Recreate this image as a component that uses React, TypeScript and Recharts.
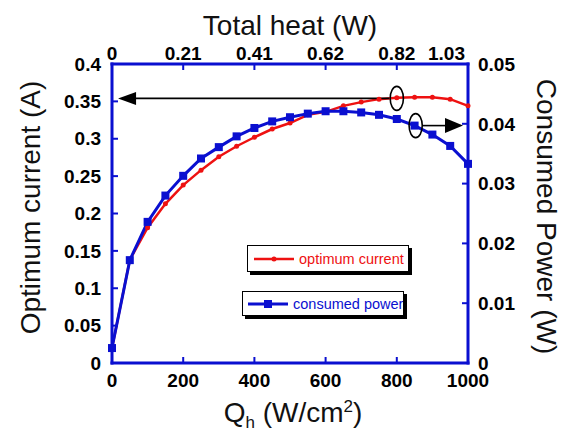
import {
  ComposedChart, Line, XAxis, YAxis, Legend, ReferenceLine, ReferenceDot,
} from 'recharts';

// heat flux Qh (W/cm2)
const qh = [0, 50, 100, 150, 200, 250, 300, 350, 400, 450, 500, 550, 600, 650, 700, 750, 800, 850, 900, 950, 1000];
// optimum current (A), left axis
const current = [0.02, 0.138, 0.181, 0.213, 0.238, 0.258, 0.276, 0.29, 0.302, 0.313, 0.321, 0.332, 0.336, 0.344, 0.349, 0.353, 0.355, 0.3556, 0.3556, 0.353, 0.344];
// consumed power (W), right axis
const power = [0.0025, 0.0172, 0.0236, 0.028, 0.0313, 0.0342, 0.0361, 0.0379, 0.0393, 0.0404, 0.0411, 0.0417, 0.0421, 0.0421, 0.0419, 0.0415, 0.0408, 0.0397, 0.0382, 0.0363, 0.0333];

const xTicks = [0, 200, 400, 600, 800, 1000];
const topTickLabels = ['0', '0.21', '0.41', '0.62', '0.82', '1.03'];
const leftTicks = [0, 0.05, 0.1, 0.15, 0.2, 0.25, 0.3, 0.35, 0.4];
const rightTicks = [0, 0.01, 0.02, 0.03, 0.04, 0.05];

const data = qh.map((q, i) => ({ q, current: current[i], power: power[i] }));

const BLUE = '#0a0fd0';
const RED = '#ee1111';
const FONT = '"Liberation Sans", Arial, sans-serif';

const tick = { fontSize: 19, fontWeight: 700, fill: '#000', fontFamily: FONT };
const axisLine = { stroke: BLUE, strokeWidth: 3, strokeLinecap: 'square' as const };
const tickLine = { stroke: BLUE, strokeWidth: 2 };
const titleStyle = { fontSize: 28, fill: '#111', fontFamily: FONT };

// top axis labels; the last one is pulled left so it clears the right axis labels
function TopTick({ x, y, index }: any) {
  const last = index === topTickLabels.length - 1;
  return (
    <text x={last ? x - 3 : x} y={y - 1} textAnchor={last ? 'end' : 'middle'} style={tick}>
      {topTickLabels[index]}
    </text>
  );
}

function LeftTitle({ viewBox }: any) {
  const x = viewBox.x + 30;
  const y = viewBox.y + viewBox.height / 2 - 6;
  return (
    <text x={x} y={y} transform={`rotate(-90 ${x} ${y})`} textAnchor="middle" dominantBaseline="central" style={titleStyle}>
      Optimum current (A)
    </text>
  );
}

function RightTitle({ viewBox }: any) {
  const x = viewBox.x + 78;
  const y = viewBox.y + viewBox.height / 2 + 3;
  return (
    <text x={x} y={y} transform={`rotate(90 ${x} ${y})`} textAnchor="middle" dominantBaseline="central" style={titleStyle}>
      Consumed Power (W)
    </text>
  );
}

function TopTitle({ viewBox }: any) {
  const x = viewBox.x + viewBox.width / 2;
  return (
    <text x={x} y={35} textAnchor="middle" style={titleStyle}>Total heat (W)</text>
  );
}

function BottomTitle({ viewBox }: any) {
  const x = viewBox.x + viewBox.width / 2 + 3;
  const y = viewBox.y + 59;
  return (
    <text x={x} y={y} textAnchor="middle" style={titleStyle}>
      Q<tspan fontSize={17} dy={6}>h</tspan>
      <tspan dy={-6}> (W/cm</tspan>
      <tspan fontSize={17} dy={-10}>2</tspan>
      <tspan dy={10}>)</tspan>
    </text>
  );
}

function Square(p: any) {
  return <rect key={`sq-${p.index}`} x={p.cx - 4} y={p.cy - 4} width={8} height={8} fill={BLUE} />;
}

const ArrowLeft = (p: any) => (
  <polygon points={`${p.cx},${p.cy} ${p.cx + 18},${p.cy - 6.5} ${p.cx + 18},${p.cy + 6.5}`} fill="#000" />
);
const ArrowRight = (p: any) => (
  <polygon points={`${p.cx},${p.cy} ${p.cx - 18},${p.cy - 7.5} ${p.cx - 18},${p.cy + 7.5}`} fill="#000" />
);
const Ellipse = (p: any) => (
  <ellipse cx={p.cx} cy={p.cy} rx={6.6} ry={12} fill="none" stroke="#000" strokeWidth={1.6} />
);

const boxStyle = {
  position: 'absolute' as const,
  background: '#fff',
  border: '1.5px solid #000',
  boxShadow: '3px 3px 0 #000',
  display: 'flex',
  alignItems: 'center',
  fontFamily: FONT,
  fontSize: 14.5,
  whiteSpace: 'nowrap' as const,
  boxSizing: 'border-box' as const,
};

function LegendBoxes() {
  return (
    <div style={{ position: 'relative', width: 175, height: 75 }}>
      <div style={{ ...boxStyle, left: 7, top: 2, width: 162, height: 27, color: RED }}>
        <svg width={45} height={10} style={{ marginLeft: 6, flex: 'none' }}>
          <line x1={0} y1={5} x2={40} y2={5} stroke={RED} strokeWidth={2.5} />
          <circle cx={20} cy={5} r={2.5} fill={RED} />
        </svg>
        <span>optimum current</span>
      </div>
      <div style={{ ...boxStyle, left: 2, top: 48, width: 162, height: 25, color: BLUE }}>
        <svg width={45} height={10} style={{ marginLeft: 5, flex: 'none' }}>
          <line x1={0} y1={5} x2={40} y2={5} stroke={BLUE} strokeWidth={3} />
          <rect x={16} y={1} width={8} height={8} fill={BLUE} />
        </svg>
        <span>consumed power</span>
      </div>
    </div>
  );
}

export default function App() {
  return (
    <div style={{ position: 'absolute', left: 0, top: 0, width: 566, height: 431, background: '#fff' }}>
      <ComposedChart width={566} height={431} data={data} margin={{ top: 0, right: 0, bottom: 0, left: 0 }}>
        <XAxis
          xAxisId="bottom" dataKey="q" type="number" domain={[0, 1000]} ticks={xTicks} height={68}
          tick={tick} axisLine={axisLine} tickLine={tickLine} tickSize={-6} tickMargin={17}
          label={<BottomTitle />}
        />
        <XAxis
          xAxisId="top" orientation="top" dataKey="q" type="number" domain={[0, 1000]} ticks={xTicks} height={64}
          tick={<TopTick />} axisLine={axisLine} tickLine={tickLine} tickSize={-6} tickMargin={9}
          label={<TopTitle />}
        />
        <YAxis
          yAxisId="left" domain={[0, 0.4]} ticks={leftTicks} width={112}
          tick={tick} axisLine={axisLine} tickLine={tickLine} tickSize={-6} tickMargin={17}
          label={<LeftTitle />}
        />
        <YAxis
          yAxisId="right" orientation="right" domain={[0, 0.05]} ticks={rightTicks} width={98}
          tick={tick} axisLine={axisLine} tickLine={tickLine} tickSize={-6} tickMargin={16}
          label={<RightTitle />}
        />
        <Legend layout="horizontal" verticalAlign="middle" align="center" content={<LegendBoxes />}
          wrapperStyle={{ left: 240, top: 243, width: 175, height: 75 }} />
        <Line
          xAxisId="bottom" yAxisId="left" type="linear" dataKey="current" name="optimum current"
          stroke={RED} strokeWidth={2.5} dot={{ r: 2.5, fill: RED, stroke: RED, strokeWidth: 0 }}
          isAnimationActive={false}
        />
        <Line
          xAxisId="bottom" yAxisId="right" type="linear" dataKey="power" name="consumed power"
          stroke={BLUE} strokeWidth={3} dot={Square}
          isAnimationActive={false}
        />
        <ReferenceLine xAxisId="bottom" yAxisId="left" segment={[{ x: 778, y: 0.354 }, { x: 60, y: 0.354 }]} stroke="#000" strokeWidth={1.6} />
        <ReferenceDot xAxisId="bottom" yAxisId="left" x={17} y={0.354} shape={ArrowLeft} />
        <ReferenceDot xAxisId="bottom" yAxisId="left" x={800} y={0.354} shape={Ellipse} />
        <ReferenceLine xAxisId="bottom" yAxisId="right" segment={[{ x: 873, y: 0.0397 }, { x: 950, y: 0.0397 }]} stroke="#000" strokeWidth={1.6} />
        <ReferenceDot xAxisId="bottom" yAxisId="right" x={986} y={0.0397} shape={ArrowRight} />
        <ReferenceDot xAxisId="bottom" yAxisId="right" x={853} y={0.0397} shape={Ellipse} />
      </ComposedChart>
    </div>
  );
}
